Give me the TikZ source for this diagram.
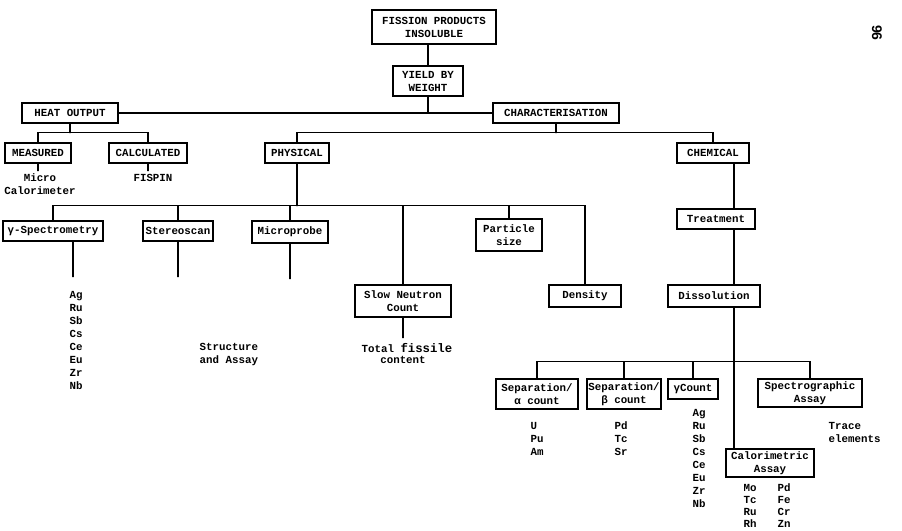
\documentclass[tikz,border=0pt]{standalone}
\usepackage{fontspec}
\newfontfamily\typew{Liberation Mono}
\newfontfamily\pagefont{Liberation Sans}
\tikzset{
  cbox/.style 2 args={draw, inner sep=0pt, align=center,
    minimum width=#1, minimum height=#2},
  leaf/.style={inner sep=0pt, anchor=base west},
  note/.style={inner sep=0pt, anchor=base},
}
\begin{document}
\begin{tikzpicture}[x=1pt, y=-1pt, line width=1.4pt, line cap=round,
    font=\typew\bfseries\fontsize{10.8}{13}\selectfont]
\useasboundingbox (0,0) rectangle (902,530);
% y runs downwards in this picture
% boxes
\node[cbox={124pt}{34pt}] (fp) at (434,27) {FISSION PRODUCTS\\INSOLUBLE};
\node[cbox={70pt}{30pt}] (yield) at (428,81) {YIELD BY\\WEIGHT};
\node[cbox={96pt}{20pt}] (heat) at (70,113) {HEAT OUTPUT};
\node[cbox={126pt}{20pt}] (char) at (556,113) {CHARACTERISATION};
\node[cbox={66pt}{20pt}] (meas) at (38,153) {MEASURED};
\node[cbox={78pt}{20pt}] (calc) at (148,153) {CALCULATED};
\node[cbox={64pt}{20pt}] (phys) at (297,153) {PHYSICAL};
\node[cbox={72pt}{20pt}] (chem) at (713,153) {CHEMICAL};
\node[cbox={100pt}{20pt}] (gspec) at (53,231) {γ-Spectrometry};
\node[cbox={70pt}{20pt}] (stereo) at (178,231) {Stereoscan};
\node[cbox={76pt}{22pt}] (microp) at (290,232) {Microprobe};
\node[cbox={96pt}{32pt}] (slow) at (403,301) {Slow Neutron\\Count};
\node[cbox={66pt}{32pt}] (part) at (509,235) {Particle\\size};
\node[cbox={72pt}{22pt}] (dens) at (585,296) {Density};
\node[cbox={78pt}{20pt}] (treat) at (716,219) {Treatment};
\node[cbox={92pt}{22pt}] (diss) at (714,296) {Dissolution};
\node[cbox={82pt}{30pt}] (sepa) at (537,394) {Separation/\\α count};
\node[cbox={74pt}{30pt}] (sepb) at (624,394) {Separation/\\β count};
\node[cbox={50pt}{20pt}] (gcount) at (693,389) {γCount};
\node[cbox={104pt}{28pt}] (spec) at (810,393) {Spectrographic\\Assay};
\node[cbox={88pt}{28pt}] (calo) at (770,463) {Calorimetric\\Assay};

% top of the tree
\draw (yield.north) -- (yield.north |- fp.south);
\draw (yield.south) -- (yield.south |- heat.east);
\draw (heat.east) -- (char.west);
\draw (heat.south) -- ++(0,9) coordinate (hb);
\draw (meas.north) |- (hb) -| (calc.north);
\draw (meas.south) -- ++(0,7);
\draw (calc.south) -- ++(0,7);
\draw (char.south) -- ++(0,9) coordinate (cb);
\draw (phys.north) |- (cb) -| (chem.north);

% physical branch
\draw (phys.south) -- ++(0,42) coordinate (pb);
\draw (gspec.north) |- (pb) -| (dens.north);
\foreach \n in {stereo,microp,slow,part}
  \draw (\n.north) -- (\n.north |- pb);
\draw ([xshift=20pt]gspec.south) -- ++(0,35);
\draw (stereo.south) -- ++(0,35);
\draw (microp.south) -- ++(0,35);
\draw (slow.south) -- ++(0,20);

% chemical branch
\coordinate (trunk) at (734,0);
\draw (chem.south -| trunk) -- (treat.north -| trunk);
\draw (treat.south -| trunk) -- (diss.north -| trunk);
\draw (diss.south -| trunk) -- (calo.north -| trunk);
\path (diss.south -| trunk) ++(0,54) coordinate (db);
\draw (sepa.north) |- (db) -| (spec.north);
\foreach \n in {sepb,gcount}
  \draw (\n.north) -- (\n.north |- db);

% results
\node[note] (micro) at (40,181.5) {Micro};
\node[note] (calorim) at (40,194.5) {Calorimeter};
\node[note] (fispin) at (153,181.5) {FISPIN};
\foreach \el [count=\i from 0] in {Ag,Ru,Sb,Cs,Ce,Eu,Zr,Nb}
  \node[leaf] (gs\i) at (69,298.5+13*\i) {\el};
\node[leaf] (struct) at (199,350.5) {Structure};
\node[leaf] (assay) at (199,363.5) {and Assay};
\node[leaf] (total) at (361,352) {Total \fontsize{12.3}{13}\selectfont fissile};
\node[note] (content) at (403,363.5) {content};
\foreach \el [count=\i from 0] in {U,Pu,Am}
  \node[leaf] (al\i) at (530,429.5+13*\i) {\el};
\foreach \el [count=\i from 0] in {Pd,Tc,Sr}
  \node[leaf] (be\i) at (614,429.5+13*\i) {\el};
\foreach \el [count=\i from 0] in {Ag,Ru,Sb,Cs,Ce,Eu,Zr,Nb}
  \node[leaf] (gc\i) at (692,416.5+13*\i) {\el};
\node[leaf] (trace) at (828,429.5) {Trace};
\node[leaf] (elem) at (828,442.5) {elements};
\foreach \a/\b [count=\i from 0] in {Mo/Pd,Tc/Fe,Ru/Cr,Rh/Zn}{
  \node[leaf] (ca\i) at (743,491.5+12*\i) {\a};
  \node[leaf] (cb\i) at (777,491.5+12*\i) {\b};
}

\node[rotate=-90, inner sep=0pt, font=\pagefont\bfseries\fontsize{14}{14}\selectfont]
  (page) at (877,33) {96};
\end{tikzpicture}
\end{document}
